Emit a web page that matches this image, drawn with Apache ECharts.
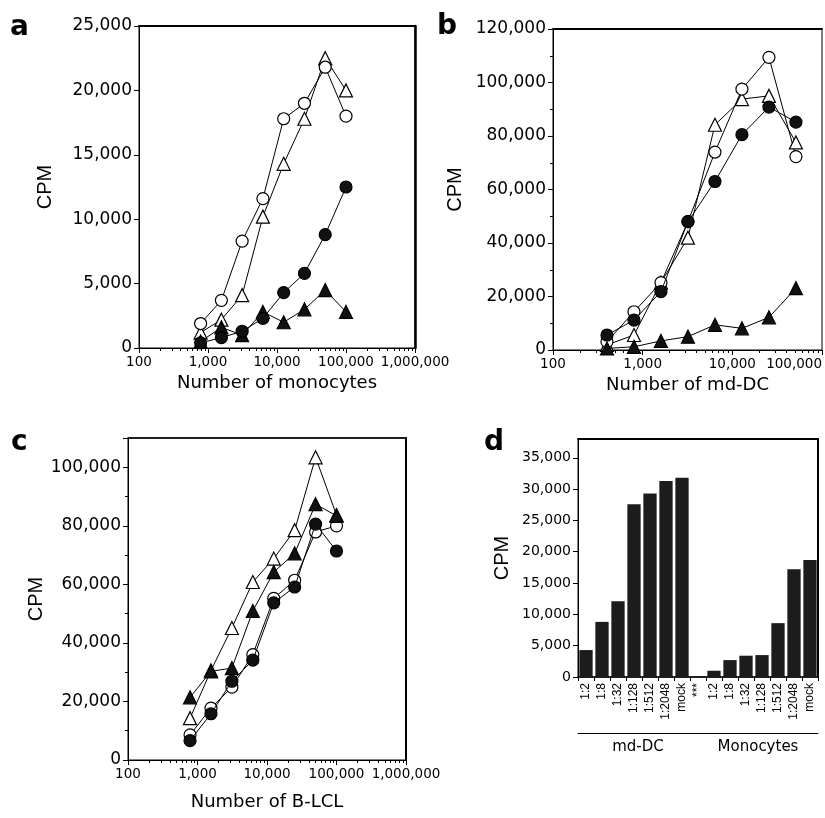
<!DOCTYPE html>
<html><head><meta charset="utf-8">
<script src="https://cdn.jsdelivr.net/npm/echarts@6/dist/echarts.min.js"></script>
<style>html,body{margin:0;padding:0;background:#fff}#c{width:825px;height:818px}</style>
</head><body><div id="c"></div>
<script>
// ---- Panel a : Number of monocytes ----
const cellsA = [781, 1563, 3125, 6250, 12500, 25000, 50000, 100000];
const aOpenCircle   = [1900, 3700, 8300, 11600, 17800, 19000, 21800, 18000];
const aOpenTri      = [1200, 2200, 4100, 10200, 14300, 17800, 22500, 20000];
const aFilledCircle = [400, 800, 1300, 2300, 4300, 5800, 8800, 12500];
const aFilledTri    = [500, 1600, 1000, 2800, 2000, 3000, 4500, 2800];
// ---- Panel b : Number of md-DC ----
const cellsB = [400, 800, 1600, 3200, 6400, 12800, 25600, 51200];
const bOpenCircle   = [3100, 14300, 25200, 48000, 74000, 97500, 109400, 72300];
const bOpenTri      = [1900, 5600, 25200, 42000, 84200, 93800, 95000, 77600];
const bFilledCircle = [5600, 11200, 21800, 48000, 63000, 80500, 90800, 85200];
const bFilledTri    = [600, 1200, 3400, 5000, 9400, 8100, 12200, 23100];
// ---- Panel c : Number of B-LCL ----
const cellsC = [781, 1563, 3125, 6250, 12500, 25000, 50000, 100000];
const cOpenTri      = [14300, 30600, 45100, 60800, 68800, 78500, 103400, 83700];
const cFilledTri    = [21400, 30300, 31400, 50900, 64200, 70600, 87400, 83400];
const cOpenCircle   = [8600, 17700, 24900, 36000, 55200, 61400, 77900, 80000];
const cFilledCircle = [6600, 15800, 26900, 34100, 53700, 59100, 80600, 71400];
// ---- Panel d : bars ----
const dCategories = ['1:2','1:8','1:32','1:128','1:512','1:2048','mock','***','1:2','1:8','1:32','1:128','1:512','1:2048','mock'];
const dValues = [4300, 8800, 12100, 27600, 29300, 31300, 31800, 0, 1000, 2700, 3400, 3500, 8600, 17200, 18700];
const dGroups = ['md-DC', 'Monocytes'];
const xNames = ['Number of monocytes', 'Number of md-DC', 'Number of B-LCL'];
const panelLetters = ['a', 'b', 'c', 'd'];

const H = 'DejaVu Sans', V = 'Liberation Sans';
const fmt = v => String(Math.round(v)).replace(/\B(?=(\d{3})+(?!\d))/g, ',');
function minorLogs(lo, hi) { const out = []; for (let e = lo; e < hi; e++) for (let k = 2; k <= 9; k++) out.push(e + Math.log10(k)); return out; }

function logX(gi, max, name, gap) {
  return { type: 'log', gridIndex: gi, logBase: 10, min: 100, max: max,
    axisLine: { onZero: false, lineStyle: { color: '#000', width: 1 } },
    axisTick: { show: true, length: 5, lineStyle: { color: '#000' } },
    splitLine: { show: false },
    axisLabel: { color: '#000', fontFamily: H, fontSize: 13.5, margin: 7, formatter: fmt, alignMaxLabel: gi === 1 ? 'right' : 'center' },
    name: name, nameLocation: 'middle', nameGap: gap,
    nameTextStyle: { color: '#000', fontFamily: H, fontSize: 18 } };
}
function minorX(gi, lo, hi) {
  return { type: 'value', gridIndex: gi, min: lo, max: hi, position: 'bottom',
    axisLine: { show: false, onZero: false }, axisLabel: { show: false }, splitLine: { show: false },
    axisTick: { show: true, length: 3, customValues: minorLogs(lo, hi), lineStyle: { color: '#000' } } };
}
function topLine(gi, w) {
  return { type: 'value', gridIndex: gi, position: 'top', min: 0, max: 1,
    axisLine: { show: true, onZero: false, lineStyle: { color: '#000', width: w } },
    axisTick: { show: false }, axisLabel: { show: false }, splitLine: { show: false } };
}
function rightLine(gi, w) {
  return { type: 'value', gridIndex: gi, position: 'right', min: 0, max: 1,
    axisLine: { show: true, onZero: false, lineStyle: { color: '#000', width: w } },
    axisTick: { show: false }, axisLabel: { show: false }, splitLine: { show: false } };
}
function valY(gi, max, interval, minor, fs, gap, showMax) {
  return { type: 'value', gridIndex: gi, min: 0, max: max, interval: interval,
    axisLine: { show: true, onZero: false, lineStyle: { color: '#000' } },
    axisTick: { show: true, length: 5, lineStyle: { color: '#000' } },
    minorTick: { show: minor, splitNumber: 2, length: 3, lineStyle: { color: '#000' } },
    splitLine: { show: false },
    axisLabel: { color: '#000', fontFamily: H, fontSize: fs, margin: 7, formatter: fmt, showMaxLabel: showMax },
    name: 'CPM', nameLocation: 'middle', nameRotate: 90, nameGap: gap,
    nameTextStyle: { color: '#000', fontFamily: V, fontSize: 20 } };
}
function line(xi, yi, xs, ys, filled, sym) {
  return { type: 'line', xAxisIndex: xi, yAxisIndex: yi,
    data: xs.map((x, i) => [x, ys[i]]), symbol: sym, symbolSize: sym === 'triangle' ? 13 : 12,
    showSymbol: true, lineStyle: { color: '#000', width: 1 },
    itemStyle: { color: filled ? '#111' : '#fff', borderColor: '#000', borderWidth: 1.2 },
    emphasis: { disabled: true }, z: filled ? 3 : 2 };
}

const grids = [
  { left: 139, top: 26, width: 276, height: 322 },
  { left: 553, top: 29, width: 272, height: 321 },
  { left: 128, top: 438, width: 278, height: 322 },
  { left: 578, top: 439, width: 240, height: 238 }
].map(g => Object.assign(g, { show: true, borderColor: '#000', borderWidth: 1 }));

const titlePos = [[10, 14], [437, 13], [11, 429], [484, 429]];

const option = {
  animation: false,
  backgroundColor: '#fff',
  title: panelLetters.map((t, i) => ({ text: t, left: titlePos[i][0], top: titlePos[i][1], padding: 0,
    textStyle: { fontFamily: H, fontWeight: 'bold', fontSize: 28, color: '#000' } })),
  grid: grids,
  xAxis: [
    logX(0, 1000000, xNames[0], 26), minorX(0, 2, 6), topLine(0, 2),
    logX(1, 100000, xNames[1], 26), minorX(1, 2, 5), topLine(1, 2),
    logX(2, 1000000, xNames[2], 33), minorX(2, 2, 6), topLine(2, 1.5),
    { type: 'category', gridIndex: 3, data: dCategories,
      axisLine: { onZero: false, lineStyle: { color: '#000', width: 1.5 } },
      axisTick: { show: true, length: 4, alignWithLabel: false, lineStyle: { color: '#000' } },
      axisLabel: { rotate: 90, fontFamily: V, fontSize: 12, color: '#000', margin: 6, interval: 0 } },
    { type: 'category', gridIndex: 3, data: dGroups, position: 'bottom', offset: 56,
      axisLine: { show: true, onZero: false, lineStyle: { color: '#000' } },
      axisTick: { show: false },
      axisLabel: { fontFamily: H, fontSize: 15, color: '#000', margin: 7, interval: 0 } },
    topLine(3, 2)
  ],
  yAxis: [
    valY(0, 25000, 5000, false, 17, 84, true), rightLine(0, 2.5),
    valY(1, 120000, 20000, true, 17, 88, true), rightLine(1, 0.01),
    valY(2, 110000, 20000, true, 17, 80, false), rightLine(2, 2),
    valY(3, 38000, 5000, false, 14, 66, false), rightLine(3, 2)
  ],
  series: [
    line(0, 0, cellsA, aFilledTri, true, 'triangle'),
    line(0, 0, cellsA, aFilledCircle, true, 'circle'),
    line(0, 0, cellsA, aOpenTri, false, 'triangle'),
    line(0, 0, cellsA, aOpenCircle, false, 'circle'),
    line(3, 2, cellsB, bFilledTri, true, 'triangle'),
    line(3, 2, cellsB, bFilledCircle, true, 'circle'),
    line(3, 2, cellsB, bOpenTri, false, 'triangle'),
    line(3, 2, cellsB, bOpenCircle, false, 'circle'),
    line(6, 4, cellsC, cOpenTri, false, 'triangle'),
    line(6, 4, cellsC, cOpenCircle, false, 'circle'),
    line(6, 4, cellsC, cFilledTri, true, 'triangle'),
    line(6, 4, cellsC, cFilledCircle, true, 'circle'),
    { type: 'bar', xAxisIndex: 9, yAxisIndex: 6, data: dValues, barCategoryGap: '17%',
      itemStyle: { color: '#1c1c1c' }, emphasis: { disabled: true } }
  ]
};
const chart = echarts.init(document.getElementById('c'), null, { renderer: 'canvas' });
chart.setOption(option);
</script></body></html>
